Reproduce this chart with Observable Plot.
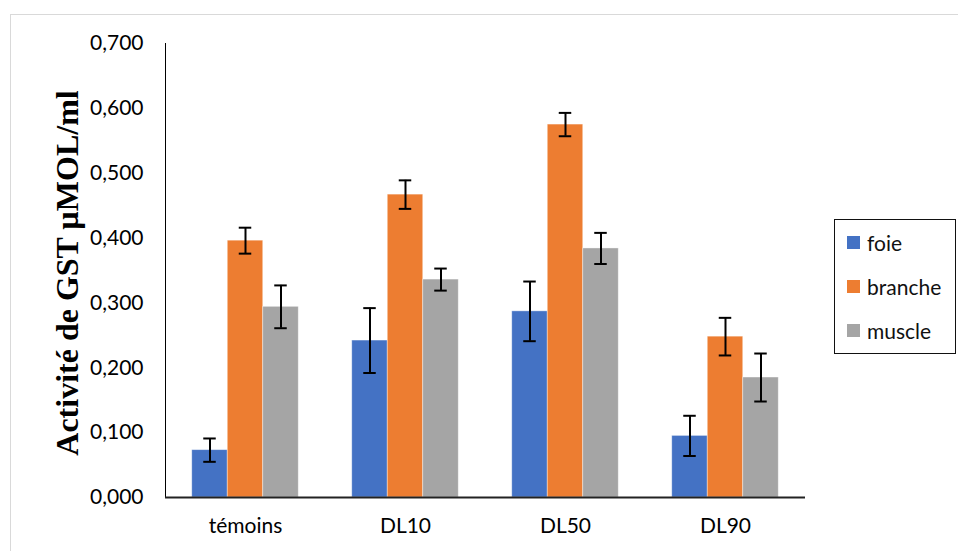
<!DOCTYPE html>
<html>
<head>
<meta charset="utf-8">
<script src="https://cdn.jsdelivr.net/npm/d3@7"></script>
<script src="https://cdn.jsdelivr.net/npm/@observablehq/plot@0.6"></script>
<style>
  html, body { margin: 0; padding: 0; background: #fff; }
  #wrap { position: relative; width: 958px; height: 551px; overflow: hidden; background: #fff; }
  #frame { position: absolute; left: 10px; top: 14px; width: 960px; height: 600px; border: 1.5px solid #d9d9d9; box-sizing: border-box; }
  #chart { position: absolute; left: 0; top: 0; }
  #title { position: absolute; left: 0; top: 0; pointer-events: none; }
  #legend { position: absolute; left: 834px; top: 219px; width: 122px; height: 135px; border: 1.5px solid #111; box-sizing: border-box; background: #fff; font-family: Lato, sans-serif; font-size: 21px; color: #111; }
  .item { position: absolute; left: 12px; height: 24px; display: flex; align-items: center; }
  .sw { width: 13px; height: 13px; margin-right: 7px; }
</style>
</head>
<body>
<div id="wrap">
  <div id="frame"></div>
  <div id="chart"></div>
  <svg id="title" width="958" height="551">
    <text transform="translate(78,273) rotate(-90)" text-anchor="middle" font-family="Liberation Serif, Times New Roman, serif" font-weight="bold" font-size="32" fill="#000">Activité de GST µMOL/ml</text>
  </svg>
  <div id="legend"></div>
</div>
<script>
const categories = ["témoins", "DL10", "DL50", "DL90"];
const series = ["foie", "branche", "muscle"];
const foie = [0.073, 0.242, 0.287, 0.095];
const foieErr = [0.018, 0.050, 0.046, 0.031];
const branche = [0.396, 0.467, 0.575, 0.248];
const brancheErr = [0.020, 0.022, 0.018, 0.029];
const muscle = [0.294, 0.336, 0.384, 0.185];
const muscleErr = [0.033, 0.017, 0.024, 0.037];
const colors = ["#4472C4", "#ED7D31", "#A5A5A5"];
const yTicks = [0, 0.1, 0.2, 0.3, 0.4, 0.5, 0.6, 0.7];

const values = {foie, branche, muscle};
const errors = {foie: foieErr, branche: brancheErr, muscle: muscleErr};
const data = [];
categories.forEach((c, i) => {
  series.forEach(s => {
    const v = values[s][i], e = errors[s][i];
    data.push({cat: c, series: s, value: v, lo: v - e, hi: v + e});
  });
});

const plot = Plot.plot({
  width: 958,
  height: 551,
  marginLeft: 165,
  marginRight: 153,
  marginTop: 43,
  marginBottom: 54,
  style: {fontFamily: "Lato, sans-serif", fontSize: "21px", color: "#000", background: "transparent", overflow: "visible"},
  fx: {domain: categories, padding: 0, round: false, axis: "bottom", label: null, tickSize: 0, tickPadding: 21},
  x: {domain: series, paddingInner: 0, paddingOuter: 0.7535, round: false, axis: null},
  y: {domain: [0, 0.7], ticks: yTicks, tickFormat: d => d.toFixed(3).replace(".", ","), tickSize: 0, tickPadding: 22, label: null, line: true},
  color: {domain: series, range: colors},
  marks: [
    Plot.barY(data, {fx: "cat", x: "series", y: "value", fill: "series", stroke: "white", strokeOpacity: 0.5, strokeWidth: 0.8}),
    Plot.ruleX(data, {fx: "cat", x: "series", y1: "lo", y2: "hi", stroke: "#000", strokeWidth: 2}),
    Plot.tickY(data, {fx: "cat", x: "series", y: "lo", stroke: "#000", strokeWidth: 2, insetLeft: 11.5, insetRight: 11.5}),
    Plot.tickY(data, {fx: "cat", x: "series", y: "hi", stroke: "#000", strokeWidth: 2, insetLeft: 11.5, insetRight: 11.5}),
    Plot.ruleY([0], {stroke: "#222", strokeWidth: 2})
  ]
});
document.getElementById("chart").appendChild(plot);

const legend = document.getElementById("legend");
const tops = [10, 54, 98];
series.forEach((s, i) => {
  const item = document.createElement("div");
  item.className = "item";
  item.style.top = tops[i] + "px";
  const sw = document.createElement("span");
  sw.className = "sw";
  sw.style.background = colors[i];
  const t = document.createElement("span");
  t.textContent = s;
  item.appendChild(sw);
  item.appendChild(t);
  legend.appendChild(item);
});
</script>
</body>
</html>
